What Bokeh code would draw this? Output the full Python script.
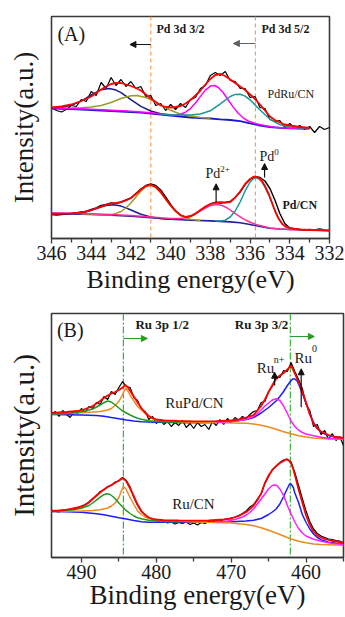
from bokeh.plotting import figure
from bokeh.models import Range1d, FixedTicker, Span, Label, Arrow, NormalHead
from bokeh.embed import file_html
from bokeh.resources import INLINE

SERIF = "Liberation Serif"
FRAME = "#3a3a3a"

# ======================= Panel (A): Pd 3d =======================
pd_x_range = (346, 332)
pd_y_range = (0, 222)
pd_ticks = [346, 344, 342, 340, 338, 336, 334, 332]
pd_minor_ticks = [345, 343, 341, 339, 337, 335, 333]
pd_ref_lines = [341.0, 335.73]

# PdRu/CN raw spectrum
pdru_raw_e = [346.0, 345.75, 345.5, 345.25, 345.0, 344.75, 344.5, 344.25, 344.0, 343.75,
              343.5, 343.25, 343.0, 342.75, 342.5, 342.25, 342.0, 341.75, 341.5, 341.25,
              341.0, 340.75, 340.5, 340.25, 340.0, 339.75, 339.5, 339.25, 339.0, 338.75,
              338.5, 338.25, 338.0, 337.75, 337.5, 337.25, 337.0, 336.75, 336.5, 336.25,
              336.0, 335.75, 335.5, 335.25, 335.0, 334.75, 334.5, 334.25, 334.0, 333.75,
              333.5, 333.25, 333.0, 332.75, 332.5, 332.25, 332.0]
pdru_raw_i = [131, 128, 126.5, 129, 133, 132, 139, 137, 147, 143,
              156, 150, 161, 153, 159, 152, 157, 150, 152, 142,
              143, 133, 135, 128, 134, 129, 135, 131, 139, 141,
              150, 153, 163, 166, 163, 167, 158, 157, 150, 150,
              141, 142, 131, 130, 119, 117, 118, 111, 115, 110,
              113, 109, 112, 106, 112, 109, 111]
pdru_bg_e = [346, 345.5, 345, 344.5, 344, 343.5, 343, 342.5, 342, 341.5, 341, 340.5, 340, 339.5,
             339, 338.5, 338, 337.5, 337, 336.5, 336, 335.5, 335, 334.5, 334, 333.5, 333]
pdru_bg_i = [130, 129.7, 129.4, 129, 128.5, 128, 127.5, 127, 126.5, 125.8, 125, 124, 123, 122,
             121, 120.5, 120, 119.2, 118.5, 117.3, 115.2, 113, 111.5, 110.6, 110.2, 110, 110]
pdru_navy_e = [346, 345.5, 345, 344.5, 344, 343.5, 343.1, 342.75, 342.5, 342, 341.5, 341, 340.5, 340]
pdru_navy_i = [130.3, 131, 133.2, 137.4, 143.5, 148.8, 150.1, 148.4, 145.8, 138.8, 132.1, 127.5, 124.8, 123.2]
pdru_olive_e = [345, 344.5, 344, 343.5, 343, 342.5, 342, 341.7, 341.25, 341, 340.5, 340, 339.5, 339, 338.5, 338]
pdru_olive_i = [130.5, 130.8, 131.5, 133, 136, 140, 142.8, 143, 141, 138.9, 133.4, 128.2, 124.3, 122.5, 121.1, 120.2]
pdru_mag_e = [346, 345, 344, 343, 342, 341, 340.5, 340, 339.75, 339.5, 339.25, 339, 338.75, 338.5,
              338.25, 338, 337.8, 337.6, 337.35, 337.1, 336.85, 336.6, 336.35, 336.1, 335.75,
              335.25, 334.75, 334.25, 333.5, 333]
pdru_mag_i = [130.7, 130.1, 129.2, 128.2, 127.2, 125.7, 124.6, 123.8, 123.6, 124.3, 126.3, 129.9, 135.5, 142.1,
              148.4, 152.4, 153, 151, 145.7, 138.5, 131.4, 125.2, 120.7, 117.5, 115.1,
              112.8, 111.3, 110.5, 110.1, 110]
pdru_teal_e = [340.5, 340, 339.5, 339, 338.5, 338, 337.5, 337, 336.75, 336.5, 336.25, 336, 335.5, 335,
               334.5, 334, 333.5, 333]
pdru_teal_i = [124.3, 123.8, 123.5, 123.5, 124.5, 127.7, 134.7, 142, 144.1, 144.3, 142.4, 138.7, 128.5, 119.2,
               113.8, 111.5, 110.5, 110.2]
pdru_fit_e = [346, 345.5, 345, 344.5, 344, 343.75, 343.5, 343.25, 343, 342.75, 342.5, 342.25, 342, 341.75,
              341.5, 341.25, 341, 340.75, 340.5, 340.25, 340, 339.75, 339.5, 339.25, 339, 338.75, 338.5,
              338.25, 338, 337.75, 337.5, 337.25, 337, 336.75, 336.5, 336.25, 336, 335.75, 335.5, 335.25,
              335, 334.75, 334.5, 334.25, 334, 333.5, 333]
pdru_fit_i = [131, 132, 134, 137.5, 142, 145.5, 149, 152, 154.5, 155.5, 155.5, 154, 152.5, 150.5,
              148, 144, 140, 136.5, 133, 131.5, 131, 131.5, 132.5, 135, 138.5, 143, 148,
              154, 159.5, 163.5, 164.5, 162.5, 159, 155.5, 152, 148.5, 144, 139.5, 134, 128,
              122, 118.5, 116, 114, 113, 111.5, 110.5]

# Pd/CN
pd_raw_e = [346.0, 345.75, 345.5, 345.25, 345.0, 344.75, 344.5, 344.25, 344.0, 343.75,
            343.5, 343.25, 343.0, 342.75, 342.5, 342.25, 342.0, 341.75, 341.5, 341.25,
            341.0, 340.75, 340.5, 340.25, 340.0, 339.75, 339.5, 339.25, 339.0, 338.75,
            338.5, 338.25, 338.0, 337.75, 337.5, 337.25, 337.0, 336.75, 336.5, 336.25,
            336.0, 335.75, 335.5, 335.25, 335.0, 334.75, 334.5, 334.25, 334.0, 333.75,
            333.5, 333.25, 333.0, 332.75, 332.5, 332.25]
pd_raw_i = [24, 23.5, 24, 24.5, 25, 25.5, 26.5, 27, 29, 30.5,
            33, 34, 35.5, 35, 36.5, 38.5, 40.5, 45, 49.5, 53,
            54.5, 53, 48.5, 41.5, 34, 27.5, 23, 21.5, 22, 24.5,
            28, 31.5, 34.5, 36, 35.5, 36, 37, 41, 46.5, 54,
            59, 62, 61, 57.5, 50, 38.5, 25, 15, 10.5, 9.5,
            9, 8.5, 9, 8.5, 9.5, 8.5]
pd_bg_e = [346, 345, 344, 343, 342, 341, 340, 339, 338, 337, 336.5, 336, 335.5, 335, 334.5, 334, 333, 332]
pd_bg_i = [25, 24.5, 24, 23.2, 22.3, 20.8, 19.3, 18.3, 17.6, 16.6, 15.8, 14, 12, 10.3, 9.5, 9, 8.5, 8]
pd_navy_e = [346, 345.5, 345, 344.5, 344, 343.5, 343.25, 342.86, 342.5, 342.25, 342, 341.5, 341, 340.5, 340]
pd_navy_i = [25.1, 24.8, 24.9, 25.6, 28.1, 31.5, 32.9, 33.7, 32.4, 30.6, 28.5, 24.3, 21.6, 19.9, 19.3]
pd_olive_e = [344.5, 344, 343.5, 343, 342.75, 342.5, 342.25, 342, 341.75, 341.5, 341.25, 341, 340.75,
              340.5, 340.25, 340, 339.75, 339.5, 339.25, 339, 338.5]
pd_olive_i = [24.5, 24.2, 23.8, 23.5, 25.1, 27, 30.5, 35.5, 41.4, 47.3, 51.7, 53, 50.9,
              45.8, 39.2, 32.5, 27, 23.1, 20.6, 19.2, 18.1]
pd_pink_e = [346, 345, 344, 343, 342, 341, 340.5, 340, 339.5, 339.25, 339, 338.75, 338.5, 338.25, 338,
             337.66, 337.4, 337.15, 336.9, 336.65, 336.4, 336.15, 335.9, 335.6, 335.3, 335, 334.5, 334,
             333, 332]
pd_pink_i = [25.7, 25.2, 24.7, 23.9, 23, 21.5, 20.7, 20.1, 20, 20.8, 22.4, 24.7, 27.6, 30.5, 33,
             34.1, 32.9, 30.5, 27.2, 23.7, 20.4, 17.7, 15.5, 13.4, 11.9, 10.6, 9.6, 9.1,
             8.6, 8.1]
pd_teal_e = [337.75, 337.5, 337.25, 337, 336.75, 336.5, 336.25, 336, 335.85, 335.73, 335.55, 335.4,
             335.25, 335.05, 334.9, 334.72, 334.55, 334.38, 334.2, 334, 333.75, 333.5, 333, 332]
pd_teal_i = [17.4, 17.5, 18.3, 21.5, 27.5, 36.5, 47.5, 56.5, 59.5, 60.7, 59.7, 56.5,
             51.5, 43, 35.5, 26.3, 19.5, 14.7, 11.8, 10.3, 9.4, 9, 8.6, 8.1]
pd_fit_e = [346, 345.5, 345, 344.5, 344, 343.75, 343.5, 343.25, 343, 342.75, 342.5, 342.25, 342,
            341.75, 341.5, 341.25, 341, 340.75, 340.5, 340.25, 340, 339.75, 339.5, 339.25, 339,
            338.75, 338.5, 338.25, 338, 337.75, 337.5, 337.25, 337, 336.75, 336.5, 336.25, 336,
            335.85, 335.73, 335.55, 335.4, 335.25, 335.05, 334.9, 334.72, 334.55, 334.38, 334.2,
            334, 333.5, 333, 332.5, 332]
pd_fit_i = [24.5, 24.8, 25.2, 26, 28.3, 30.2, 32, 33.8, 34.8, 35.5, 36.3, 38, 40.5,
            44.5, 49, 52.5, 53.8, 51.5, 46.5, 39.5, 33, 27.5, 23.5, 21.5, 22.5,
            25, 28.5, 32, 34.5, 36, 36.3, 36, 36.5, 41, 47, 54.5, 59.5,
            61.5, 62, 60.5, 57.5, 52.5, 44, 36, 26.5, 19.5, 14.5, 11.8,
            10.3, 9, 8.5, 8.2, 8]

# ======================= Panel (B): Ru 3p =======================
ru_x_range = (494, 455)
ru_y_range = (0, 244)
ru_ticks = [490, 480, 470, 460]
ru_minor_ticks = [485, 475, 465, 455]
ru_ref_lines = [484.4, 462.1]

ru_raw_e = [494.0, 493.5, 493.0, 492.5, 492.0, 491.5, 491.0, 490.5, 490.0, 489.5,
            489.0, 488.5, 488.0, 487.5, 487.0, 486.5, 486.0, 485.5, 485.0, 484.5,
            484.0, 483.5, 483.0, 482.5, 482.0, 481.5, 481.0, 480.5, 480.0, 479.5,
            479.0, 478.5, 478.0, 477.5, 477.0, 476.5, 476.0, 475.5, 475.0, 474.5,
            474.0, 473.5, 473.0, 472.5, 472.0, 471.5, 471.0, 470.5, 470.0, 469.5,
            469.0, 468.5, 468.0, 467.5, 467.0, 466.5, 466.0, 465.5, 465.0, 464.5,
            464.0, 463.5, 463.0, 462.5, 462.0, 461.5, 461.0, 460.5, 460.0, 459.5,
            459.0, 458.5, 458.0, 457.5, 457.0, 456.5, 456.0, 455.5, 455.0]

# RuPd/CN
rupd_raw_i = [143, 146, 141, 147, 143, 140, 146, 144, 149, 145,
              151, 149, 155, 153, 161, 158, 166, 163, 170, 176,
              171, 170, 160, 157, 148, 146, 138, 141, 134, 138,
              133, 136, 131, 135, 132, 137, 130, 134, 129, 135,
              131, 133, 128, 136, 132, 138, 133, 139, 135, 140,
              137, 141, 139, 143, 146, 147, 155, 156, 166, 171,
              181, 180, 187, 186, 195, 186, 178, 169, 153, 147,
              131, 133, 123, 127, 118, 124, 117, 121, 112]
rupd_blue_e = [494, 492, 490, 488, 487, 486, 485, 484, 483, 482, 480, 478, 476, 474, 472, 470, 469, 468,
               467, 466, 465, 464, 463.5, 463, 462.5, 462, 461.8, 461.5, 461.2, 461, 460.5, 460, 459.5,
               459, 458.5, 458, 457.5, 457, 456, 455]
rupd_blue_i = [143, 142.8, 142.5, 142, 141.3, 140, 138.8, 137.5, 136.5, 135.8, 135.3, 135, 134.8, 134.7,
               135, 136, 137, 138, 140, 144.5, 150, 156.5, 161, 166, 172, 177, 178.5, 178.5, 176.5,
               173.5, 164, 154.5, 144, 135, 129, 125.5, 123.5, 122, 120.3, 119.3]
rupd_orange_e = [494, 492, 490, 488.5, 487.5, 486.5, 486, 485.5, 485, 484.5, 484.1, 483.75, 483.4, 483,
                 482.5, 482, 481.5, 481, 480.5, 480, 479, 477, 475, 472, 470, 468, 467, 466, 465, 464,
                 463, 462, 461, 460, 459, 458, 457, 455]
rupd_orange_i = [143.5, 144, 144.8, 145.5, 146, 147.5, 149, 152, 156, 163, 169.5, 166, 161, 156.5,
                 151, 147.5, 144, 141, 138.8, 137.5, 136.2, 135.6, 135.3, 135, 134.6, 134.2, 133.5,
                 132.2, 130.5, 128.3, 125.8, 123.7, 121.8, 120.4, 119.5, 118.9, 118.5, 118.2]
rupd_green_e = [494, 492, 490.5, 489.5, 488.5, 488, 487.5, 487, 486.5, 486, 485.5, 485, 484.5, 484,
                483.5, 483, 482.5, 482, 481, 480, 479, 477]
rupd_green_i = [143.7, 144.2, 145.2, 146.5, 148.5, 150.5, 152.5, 154.8, 156.5, 155.5, 152.5, 149.5,
                146.5, 144.5, 142.5, 140.8, 139.3, 138.2, 136.8, 136, 135.5, 135.2]
rupd_mag_e = [472, 470, 469, 468, 467, 466.5, 466, 465.5, 465, 464.5, 464, 463.5, 463, 462.5, 462,
              461.5, 461, 460.5, 460, 459, 458, 457, 456, 455]
rupd_mag_i = [135.2, 136, 136.8, 138, 141, 144, 147.5, 151.5, 154.5, 157.5, 158.7, 157, 151.5, 144,
              136.5, 131, 127.3, 125, 123.5, 121.8, 120.3, 119.3, 118.8, 118.5]
rupd_fit_e = [494, 492, 490.5, 489.5, 488.5, 488, 487.5, 487, 486.5, 486, 485.5, 485, 484.5, 484.1,
              483.75, 483.4, 483, 482.5, 482, 481.5, 481, 480.5, 480, 479, 477, 475, 472, 470, 469,
              468, 467, 466, 465.5, 465, 464.5, 464, 463.5, 463, 462.5, 462, 461.75, 461.5, 461,
              460.5, 460, 459.5, 459, 458.5, 458, 457, 456, 455]
rupd_fit_i = [144.5, 145.5, 146.5, 148.5, 151.5, 154, 156.5, 159.5, 162, 164, 165.5, 167.5, 170, 172.5,
              169.5, 165.5, 161, 155, 149.5, 145, 141.5, 139.3, 138, 137, 136.5, 136.2, 136.3, 137,
              138, 140, 142.5, 151.5, 158, 165.5, 172.5, 178.5, 182, 184.5, 188, 192, 188, 184, 175,
              166, 155, 143, 134, 129, 126, 122.5, 120.5, 119.5]

# Ru/CN
rucn_raw_i = [47.5, 46, 45.5, 47, 47.5, 48, 49.5, 50, 51.5, 53,
              55.5, 59, 61.5, 66, 67.5, 71, 72, 75.5, 76.5, 80,
              77, 70.5, 60, 52, 46, 43, 39.5, 38, 37, 35.5,
              37, 34.5, 35.5, 33.5, 35, 34, 35.5, 33, 34.5, 32.5,
              35, 34, 36, 35.5, 37, 36.5, 38, 38.5, 39.5, 40.5,
              42, 44, 46.5, 50.5, 53, 58.5, 63.5, 74, 81, 88,
              91, 95, 97.5, 98, 95.5, 85, 72, 59, 46.5, 36,
              28.5, 24, 21.5, 20, 18.5, 18, 17, 16.5, 14.5]
rucn_blue_e = [494, 492, 490, 488, 487, 486, 485, 484, 483, 482, 481, 478, 475, 472, 470, 468, 467, 466,
               465.5, 465, 464.5, 464, 463.5, 463, 462.5, 462.2, 462, 461.7, 461.5, 461, 460.5, 460,
               459.5, 459, 458.5, 458, 457, 456, 455]
rucn_blue_i = [46, 45.8, 45.3, 43.7, 42.8, 41.3, 39.8, 38.5, 37, 35.8, 35.3, 35.2, 35.3, 35.5, 35.8,
               36.5, 37.3, 39, 41, 43, 45.5, 48.5, 53.5, 61, 69, 73.5, 73.5, 70, 64.5, 55, 43, 35,
               28.5, 23.5, 20, 17.8, 15.3, 14.3, 13.7]
rucn_mag_e = [472, 470.5, 469.5, 468.5, 468, 467.5, 467, 466.5, 466, 465.5, 465, 464.5, 464.2, 463.9,
              463.5, 463, 462.5, 462, 461.5, 461, 460.5, 460, 459, 458, 457, 456, 455]
rucn_mag_i = [35.6, 36.5, 38, 40.5, 42.5, 45, 48.5, 53.5, 58.5, 63.5, 68.8, 72, 72.5, 72,
              68.5, 62, 52, 43.5, 35.5, 29, 24.5, 21.5, 18.3, 16.2, 14.8, 13.8, 13]
rucn_orange_e = [494, 492, 490, 488.5, 487.5, 486.5, 486, 485.5, 485, 484.7, 484.4, 484.1, 483.8, 483.5,
                 483, 482.5, 482, 481.5, 481, 480, 479, 477, 475, 472, 470, 468, 467, 466, 465, 464,
                 463, 462, 461, 460, 459, 458, 456, 455]
rucn_orange_i = [46, 46.2, 46.5, 47, 47.8, 49.5, 51.5, 54.5, 60, 66, 71, 69, 64.5, 60,
                 53, 46.5, 43, 40.5, 39, 37.5, 36.8, 36.2, 35.6, 35, 34.4, 33, 31.8, 29.8, 27.2, 24.5,
                 21.5, 18.5, 16.3, 14.7, 13.6, 13, 12.5, 12.3]
rucn_green_e = [494, 492.5, 491, 490, 489, 488.5, 488, 487.5, 487, 486.6, 486.2, 485.8, 485.4, 485,
                484.5, 484, 483.5, 483, 482.5, 482, 481, 480, 479, 477]
rucn_green_i = [46, 46.8, 47.8, 49.3, 52, 54.5, 57.3, 60.3, 62.8, 63.8, 63, 61, 58, 54.5,
                50.5, 46.8, 44, 41.5, 39.8, 38.7, 37.3, 36.5, 36, 35.6]
rucn_fit_e = [494, 493, 492, 491, 490, 489.5, 489, 488.5, 488, 487.5, 487, 486.5, 486, 485.5, 485,
              484.6, 484.3, 484, 483.5, 483, 482.5, 482, 481.5, 481, 480.5, 480, 479, 477, 475, 473,
              471, 470, 469, 468, 467.5, 467, 466.5, 466, 465.5, 465, 464.5, 464, 463.5, 463, 462.6,
              462.3, 462, 461.7, 461.3, 461, 460.5, 460, 459.5, 459, 458.5, 458, 457.5, 456.5, 455]
rucn_fit_i = [46.5, 47, 47.8, 49, 50.8, 52.5, 55, 58.5, 62, 65, 68, 70.5, 72.5, 74.8, 77,
              79.2, 78.5, 76, 69, 61, 53, 46.5, 42.5, 40, 38.7, 38, 37.4, 37, 36.8, 37,
              38, 39, 41.5, 45.5, 48.5, 52, 57.5, 64, 74.5, 82, 87.5, 91.5, 94.5, 96.5, 98.5,
              97, 94, 88, 77, 68, 55, 42, 32.5, 26, 22, 20, 18.5, 16.5, 15]


def make_panel(xr, yr, width, height, left, top, bottom, right, ticks, minor, xlab_size,
               xlab_standoff, ylab_size, ylab_standoff, ylab_bounds):
    p = figure(width=width, height=height,
               x_range=Range1d(start=xr[0], end=xr[1]), y_range=Range1d(start=yr[0], end=yr[1]),
               output_backend="svg", toolbar_location=None,
               min_border_left=left, min_border_right=right,
               min_border_top=top, min_border_bottom=bottom)
    p.xgrid.visible = False
    p.ygrid.visible = False
    p.background_fill_color = "white"
    p.border_fill_color = "white"
    p.outline_line_color = FRAME
    p.outline_line_width = 1.6
    p.outline_line_alpha = 1.0

    xa = p.xaxis[0]
    xa.ticker = FixedTicker(ticks=ticks, minor_ticks=minor)
    xa.axis_line_color = FRAME
    xa.axis_line_width = 1.6
    xa.major_tick_line_color = FRAME
    xa.minor_tick_line_color = FRAME
    xa.major_tick_line_width = 1.3
    xa.minor_tick_line_width = 1.3
    xa.major_tick_out = 5
    xa.major_tick_in = 0
    xa.minor_tick_out = 4
    xa.minor_tick_in = 0
    xa.major_label_text_font = SERIF
    xa.major_label_text_font_size = "20px"
    xa.major_label_text_color = "#1a1a1a"
    xa.major_label_standoff = 2
    xa.axis_label = "Binding energy(eV)"
    xa.axis_label_text_font = SERIF
    xa.axis_label_text_font_size = xlab_size
    xa.axis_label_text_font_style = "normal"
    xa.axis_label_text_color = "#1a1a1a"
    xa.axis_label_standoff = xlab_standoff

    ya = p.yaxis[0]
    ya.ticker = FixedTicker(ticks=[])
    ya.bounds = ylab_bounds
    ya.axis_line_color = None
    ya.major_tick_out = 0
    ya.major_tick_in = 0
    ya.minor_tick_out = 0
    ya.minor_tick_in = 0
    ya.major_label_standoff = 0
    ya.axis_label = "Intensity(a.u.)"
    ya.axis_label_text_font = SERIF
    ya.axis_label_text_font_size = ylab_size
    ya.axis_label_text_font_style = "normal"
    ya.axis_label_text_color = "#1a1a1a"
    ya.axis_label_standoff = ylab_standoff
    return p


def txt(p, x, y, s, size, style="normal", color="#1a1a1a"):
    p.add_layout(Label(x=x, y=y, text=s, text_font=SERIF, text_font_size=size,
                       text_font_style=style, text_color=color,
                       text_baseline="middle", text_align="left"))


def arrow(p, x0, y0, x1, y1, color, size=6, width=1.2):
    p.add_layout(Arrow(end=NormalHead(size=size, fill_color=color, line_color=color),
                       x_start=x0, y_start=y0, x_end=x1, y_end=y1,
                       line_color=color, line_width=width))


# ---------------- Panel A ----------------
pA = make_panel(pd_x_range, pd_y_range, 345, 300, 51, 16, 62, 16, pd_ticks, pd_minor_ticks,
                "26px", 2, "27px", 13, (0, 204))
for loc in pd_ref_lines:
    pA.add_layout(Span(location=loc, dimension="height", line_color="#f5a05a",
                       line_dash="4 3", line_width=1.2, level="underlay"))

pA.line(pdru_raw_e, pdru_raw_i, line_color="black", line_width=1.2)
pA.line(pdru_bg_e, pdru_bg_i, line_color="#1a1acc", line_width=1.8)
pA.line(pdru_navy_e, pdru_navy_i, line_color="#1c1c8a", line_width=1.5)
pA.line(pdru_olive_e, pdru_olive_i, line_color="#9b9b25", line_width=1.5)
pA.line(pdru_mag_e, pdru_mag_i, line_color="#ff00ff", line_width=1.5)
pA.line(pdru_teal_e, pdru_teal_i, line_color="#1a9696", line_width=1.5)
pA.line(pdru_fit_e, pdru_fit_i, line_color="#ff0000", line_width=1.8)

pA.line(pd_raw_e, pd_raw_i, line_color="black", line_width=1.4)
pA.line(pd_bg_e, pd_bg_i, line_color="#2020a0", line_width=1.6)
pA.line(pd_navy_e, pd_navy_i, line_color="#1c1c8a", line_width=1.5)
pA.line(pd_olive_e, pd_olive_i, line_color="#9b9b25", line_width=1.5)
pA.line(pd_pink_e, pd_pink_i, line_color="#ff2e9a", line_width=1.5)
pA.line(pd_teal_e, pd_teal_i, line_color="#1a9696", line_width=1.5)
pA.line(pd_fit_e, pd_fit_i, line_color="#ff0000", line_width=1.8)

txt(pA, 345.7, 205, "(A)", "20px")
txt(pA, 340.71, 210, "Pd 3d 3/2", "12px", "bold")
txt(pA, 335.43, 210, "Pd 3d 5/2", "12px", "bold")
arrow(pA, 341.0, 194, 342.05, 194, "#111111")
arrow(pA, 335.73, 195, 336.84, 195, "#606060")
txt(pA, 335.12, 145, "PdRu/CN", "12px")
txt(pA, 334.37, 34, "Pd/CN", "12px", "bold")
txt(pA, 335.53, 82, "Pd", "14px")
txt(pA, 334.78, 87, "0", "9px")
arrow(pA, 335.27, 61, 335.27, 75, "#111111")
txt(pA, 338.25, 65, "Pd", "14px")
txt(pA, 337.5, 70, "2+", "9px")
arrow(pA, 337.71, 36.3, 337.71, 54.7, "#111111")

# ---------------- Panel B ----------------
pB = make_panel(ru_x_range, ru_y_range, 345, 317, 51, 13, 60, 2, ru_ticks, ru_minor_ticks,
                "27px", -2, "29px", 12, (0, 227))
for loc in ru_ref_lines:
    pB.add_layout(Span(location=loc, dimension="height", line_color="#3cb43c",
                       line_dash="7 2 2 2", line_width=1.2, level="underlay"))

pB.line(ru_raw_e, rupd_raw_i, line_color="black", line_width=1.2)
pB.line(rupd_blue_e, rupd_blue_i, line_color="#1c1cff", line_width=1.5)
pB.line(rupd_orange_e, rupd_orange_i, line_color="#ee8a1c", line_width=1.5)
pB.line(rupd_green_e, rupd_green_i, line_color="#1f991f", line_width=1.5)
pB.line(rupd_mag_e, rupd_mag_i, line_color="#ff1eff", line_width=1.5)
pB.line(rupd_fit_e, rupd_fit_i, line_color="#ff0000", line_width=1.8)

pB.line(ru_raw_e, rucn_raw_i, line_color="black", line_width=1.2)
pB.line(rucn_blue_e, rucn_blue_i, line_color="#1c1cff", line_width=1.5)
pB.line(rucn_orange_e, rucn_orange_i, line_color="#ee8a1c", line_width=1.5)
pB.line(rucn_green_e, rucn_green_i, line_color="#1f991f", line_width=1.5)
pB.line(rucn_mag_e, rucn_mag_i, line_color="#ff1eff", line_width=1.5)
pB.line(rucn_fit_e, rucn_fit_i, line_color="#ff0000", line_width=1.8)

txt(pB, 493.28, 228, "(B)", "20px")
txt(pB, 482.79, 233, "Ru 3p 1/2", "13px", "bold")
txt(pB, 469.51, 233, "Ru 3p 3/2", "13px", "bold")
arrow(pB, 484.4, 219, 481.2, 219, "#2a9a2a")
arrow(pB, 462.1, 221, 458.9, 221, "#2a9a2a")
txt(pB, 478.8, 155, "RuPd/CN", "15px")
txt(pB, 477.88, 54, "Ru/CN", "15px")
txt(pB, 466.6, 190, "Ru", "15px")
txt(pB, 464.3, 198, "n+", "10px")
arrow(pB, 464.2, 172, 464.2, 185.3, "#111111")
txt(pB, 461.54, 200, "Ru", "15px")
txt(pB, 459.2, 209, "0", "10px")
arrow(pB, 460.65, 150.3, 460.65, 188.7, "#111111")

open("out.html", "w").write(file_html([pA, pB], INLINE))
